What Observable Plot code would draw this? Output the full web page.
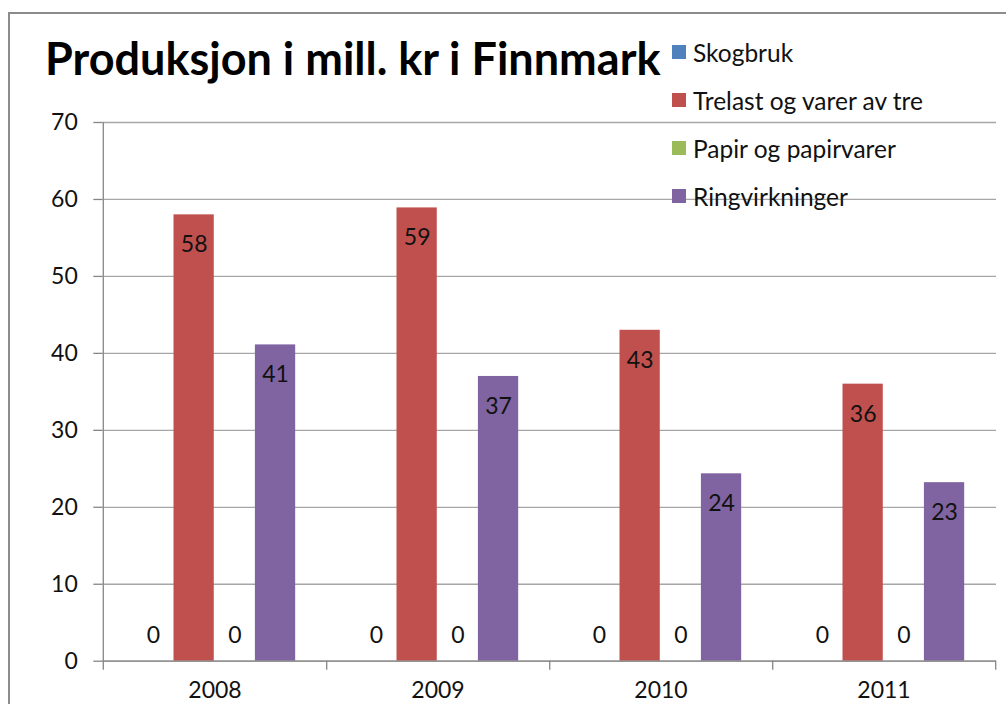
<!DOCTYPE html>
<html>
<head>
<meta charset="utf-8">
<script src="https://cdn.jsdelivr.net/npm/d3@7"></script>
<script src="https://cdn.jsdelivr.net/npm/@observablehq/plot@0.6"></script>
<style>
  html, body { margin: 0; padding: 0; background: #fff; }
  #wrap { position: relative; width: 1006px; height: 704px; overflow: hidden; background: #fff; font-family: Lato, "Open Sans", sans-serif; }
  #border { position: absolute; left: 8px; top: 12px; width: 1200px; height: 900px; border: 2px solid #8c8c8c; box-sizing: border-box; }
  #chart { position: absolute; left: 0; top: 0; }
  #title { position: absolute; left: 45px; top: 36px; font-weight: 700; font-size: 45px; color: #000; white-space: nowrap; line-height: 1; }
  #legend { position: absolute; left: 672px; top: 38px; }
  .item { position: absolute; left: 0; height: 28px; display: flex; align-items: center; white-space: nowrap; font-size: 24.5px; color: #111; }
  .sw { width: 14px; height: 14px; margin-right: 7px; }
</style>
</head>
<body>
<div id="wrap">
  <div id="border"></div>
  <div id="chart"></div>
  <div id="title"></div>
  <div id="legend"></div>
</div>
<script>
const title = "Produksjon i mill. kr i Finnmark";
const years = ["2008", "2009", "2010", "2011"];
const series = ["Skogbruk", "Trelast og varer av tre", "Papir og papirvarer", "Ringvirkninger"];
const skogbruk = [0, 0, 0, 0];
const trelast = [58, 58.9, 43, 36];
const papir = [0, 0, 0, 0];
const ringvirkninger = [41.1, 37, 24.35, 23.2];
const colors = ["#4F81BD", "#C0504D", "#9BBB59", "#8064A2"];
const yTicks = [0, 10, 20, 30, 40, 50, 60, 70];

const values = [skogbruk, trelast, papir, ringvirkninger];
const data = [];
series.forEach((s, i) => years.forEach((y, j) => data.push({series: s, si: i, year: y, value: values[i][j]})));

// layout
const W = 1006, H = 704;
const mL = 102.3, mR = 10, mT = 122, mB = 43.3;
const band = (W - mL - mR) / years.length;
const pad = 29.8, bw = 40.7;
const fmt = d3.format(".0f");

const marks = [
  Plot.gridY(yTicks, {stroke: "#a6a6a6", strokeOpacity: 1, strokeWidth: 1.3})
];
series.forEach((s, i) => {
  const rows = data.filter(d => d.si === i);
  const left = pad + i * bw;
  const right = band - left - bw;
  const dx = left + bw / 2 - band / 2;
  marks.push(Plot.barY(rows, {x: "year", y: "value", fill: colors[i], insetLeft: left, insetRight: right}));
  marks.push(Plot.text(rows.filter(d => d.value > 0), {x: "year", y: "value", text: d => fmt(d.value), dx, dy: 30, fill: "#111", fontSize: 23}));
  marks.push(Plot.text(rows.filter(d => d.value === 0), {x: "year", y: "value", text: d => fmt(d.value), dx, dy: -26, fill: "#111", fontSize: 23}));
});
marks.push(
  Plot.ruleY([0], {stroke: "#868686", strokeWidth: 1.3}),
  Plot.ruleX([years[0]], {x: d => d, dx: -band / 2, stroke: "#868686", strokeWidth: 1.3}),
  Plot.axisY({ticks: yTicks, tickSize: 9, tickPadding: 16, stroke: "#868686", strokeWidth: 1.3, fill: "#111", fontSize: 23, label: null}),
  Plot.axisX({ticks: years, tickSize: 9, dx: band / 2, tickFormat: () => "", stroke: "#868686", strokeWidth: 1.3, label: null}),
  Plot.axisX({ticks: [years[0]], tickSize: 9, dx: -band / 2, tickFormat: () => "", stroke: "#868686", strokeWidth: 1.3, label: null}),
  Plot.axisX({ticks: years, tickSize: 0, tickPadding: 20, fill: "#111", fontSize: 23, label: null})
);

const chart = Plot.plot({
  width: W, height: H,
  marginLeft: mL, marginRight: mR, marginTop: mT, marginBottom: mB,
  style: {fontFamily: "Lato, 'Open Sans', sans-serif", fontSize: "23px", background: "transparent", color: "#111", overflow: "visible"},
  x: {domain: years, padding: 0, axis: null},
  y: {domain: [0, 70], axis: null},
  marks
});
document.getElementById("chart").appendChild(chart);
document.getElementById("title").textContent = title;

const legend = document.getElementById("legend");
series.forEach((s, i) => {
  const it = document.createElement("div");
  it.className = "item";
  it.style.top = (i * 48) + "px";
  const sw = document.createElement("span");
  sw.className = "sw";
  sw.style.background = colors[i];
  const t = document.createElement("span");
  t.textContent = s;
  it.appendChild(sw); it.appendChild(t);
  legend.appendChild(it);
});
</script>
</body>
</html>
